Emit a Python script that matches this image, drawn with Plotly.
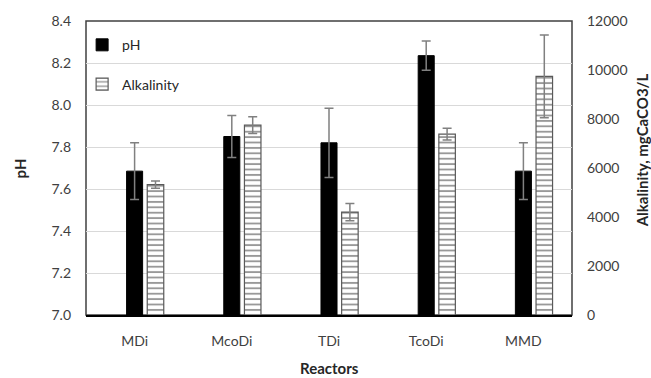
import plotly.graph_objects as go

reactors = ["MDi", "McoDi", "TDi", "TcoDi", "MMD"]
ph_values = [7.685, 7.85, 7.82, 8.235, 7.685]
ph_errors = [0.135, 0.10, 0.165, 0.07, 0.135]
alk_values = [5320, 7750, 4200, 7380, 9740]
alk_errors = [150, 340, 350, 240, 1690]

ph_ticks = [7.0, 7.2, 7.4, 7.6, 7.8, 8.0, 8.2, 8.4]
alk_ticks = [0, 2000, 4000, 6000, 8000, 10000, 12000]

FONT = "Lato"
fig = go.Figure()

fig.add_trace(go.Bar(
    x=reactors, y=ph_values, name="pH", yaxis="y",
    marker=dict(color="black", line=dict(color="black", width=1)),
    width=0.165, offset=-0.0825,
    error_y=dict(type="data", array=ph_errors, color="#808080", thickness=1.5, width=4.5),
    legendgroup="a",
))
fig.add_trace(go.Bar(
    x=reactors, y=alk_values, name="Alkalinity", yaxis="y2",
    marker=dict(color="white", line=dict(color="#595959", width=1.2),
                pattern=dict(shape="-", fgcolor="#333333", bgcolor="white", size=5.4, solidity=0.35)),
    width=0.17, offset=0.13,
    error_y=dict(type="data", array=alk_errors, color="#808080", thickness=1.5, width=4.5),
    legendgroup="b",
))

fig.update_layout(
    width=651, height=378,
    margin=dict(l=86, r=79, t=18, b=63),
    paper_bgcolor="white", plot_bgcolor="white",
    barmode="overlay",
    font=dict(family=FONT, size=14, color="#404040"),
    showlegend=True,
    legend=dict(x=-0.008, y=0.972, xanchor="left", yanchor="top", bgcolor="rgba(0,0,0,0)",
                tracegroupgap=18, font=dict(size=14, color="#262626"), itemwidth=30),
    xaxis=dict(showgrid=False, showline=True, linecolor="black", linewidth=2,
               ticks="", ticklabelstandoff=12, range=[-0.5, 4.5]),
    yaxis=dict(range=[7.0, 8.4], tickvals=ph_ticks, ticktext=[f"{v:.1f}" for v in ph_ticks],
               showgrid=True, gridcolor="#d9d9d9", gridwidth=1, zeroline=False,
               showline=False, ticks="", ticklabelstandoff=14),
    yaxis2=dict(range=[0, 12000], tickvals=alk_ticks, ticktext=[str(v) for v in alk_ticks],
                overlaying="y", side="right",
                showgrid=False, zeroline=False, showline=False, ticks="", ticklabelstandoff=14),
    shapes=[dict(type="rect", xref="paper", yref="paper", x0=0, x1=1, y0=0, y1=1,
                 line=dict(color="#404040", width=1.5), layer="below")],
    annotations=[
        dict(text="<b>pH</b>", xref="paper", yref="paper", x=-0.135, y=0.5, showarrow=False,
             textangle=-90, font=dict(size=15, color="#262626"), xanchor="center", yanchor="middle"),
        dict(text="<b>Alkalinity, mgCaCO3/L</b>", x=643, xref="paper", yref="paper", showarrow=False,
             textangle=-90, font=dict(size=15, color="#262626"), xanchor="center", yanchor="middle", y=0.56),
        dict(text="<b>Reactors</b>", xref="paper", yref="paper", x=0.5, y=-0.18, showarrow=False,
             font=dict(size=15, color="#262626"), xanchor="center", yanchor="middle"),
    ],
)
# right title x in paper coords
fig.layout.annotations[1].x = (642 - 86) / (651 - 86 - 79)

fig.write_html("out.html")
